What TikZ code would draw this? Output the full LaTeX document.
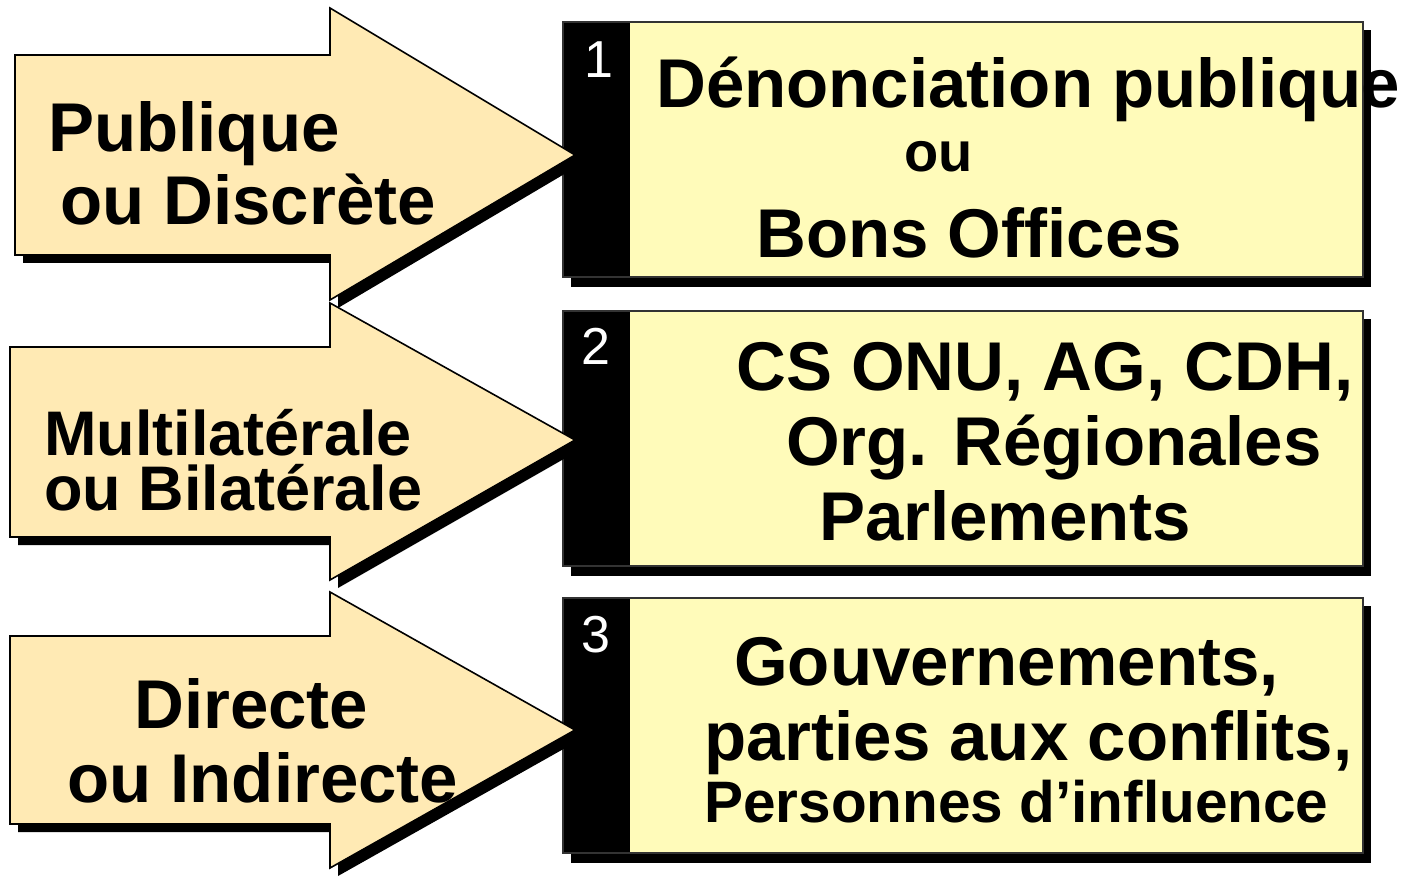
\documentclass[tikz,border=0pt]{standalone}
\usepackage{fontspec}
\setmainfont{Liberation Sans}
\definecolor{peach}{HTML}{FFEAB4}
\definecolor{paleyellow}{HTML}{FFFBBA}
\definecolor{edgegray}{HTML}{333333}
\tikzset{
  fatarrow/.style={fill=peach, draw=black, line width=1.6pt, line join=miter,
    preaction={fill=black, transform canvas={xshift=8pt,yshift=-8pt}}},
  panelshadow/.style={fill=black},
  panel/.style={fill=black},
  boxbody/.style={fill=paleyellow},
  boxedge/.style={draw=edgegray, line width=1.4pt},
  bigtxt/.style={anchor=base west, inner sep=0pt, font=\bfseries\fontsize{69}{75}\selectfont},
  midtxt/.style={anchor=base west, inner sep=0pt, font=\bfseries\fontsize{63}{66}\selectfont},
  outxt/.style={anchor=base west, inner sep=0pt, font=\bfseries\fontsize{56}{60}\selectfont},
  smalltxt/.style={anchor=base west, inner sep=0pt, font=\bfseries\fontsize{58.5}{60}\selectfont},
  numtxt/.style={anchor=base west, inner sep=0pt, text=white, font=\fontsize{52}{60}\selectfont},
}
\begin{document}
\begin{tikzpicture}[x=1pt,y=-1pt]
\useasboundingbox (0,0) rectangle (1406,877);
% ---------- boxes ----------
\foreach \t/\b in {22/277, 311/566, 598/853}{
  \fill[panelshadow] (571,\t+8) rectangle (1371,\b+10);
  \fill[boxbody] (630,\t) rectangle (1363,\b);
  \fill[panel] (563,\t) rectangle (630,\b);
  \draw[boxedge] (563,\t) rectangle (1363,\b);
}
\node[numtxt] (n1) at (584,78) {1};
\node[numtxt] (n2) at (581,365) {2};
\node[numtxt] (n3) at (581,652) {3};
% ---------- arrows ----------
\draw[fatarrow] (15,55) -- (330,55) -- (330,8) -- (575,155) -- (330,300) -- (330,255) -- (15,255) -- cycle;
\draw[fatarrow] (10,347) -- (330,347) -- (330,303) -- (575,440) -- (330,580) -- (330,537) -- (10,537) -- cycle;
\draw[fatarrow] (10,636) -- (330,636) -- (330,592) -- (575,730) -- (330,868) -- (330,824) -- (10,824) -- cycle;
% ---------- arrow texts ----------
\node[bigtxt] (a1l1) at (48,152) {Publique};
\node[bigtxt] (a1l2) at (60,225) {ou Discrète};
\node[midtxt] (a2l1) at (44,455) {Multilatérale};
\node[midtxt] (a2l2) at (44,510) {ou Bilatérale};
\node[bigtxt] (a3l1) at (134,728) {Directe};
\node[bigtxt] (a3l2) at (67,802) {ou Indirecte};
% ---------- box texts ----------
\node[bigtxt] (b1l1) at (656,108) {Dénonciation publique};
\node[outxt] (b1l2) at (904,172) {ou};
\node[bigtxt] (b1l3) at (756,258) {Bons Offices};
\node[bigtxt] (b2l1) at (736,390) {CS ONU, AG, CDH,};
\node[bigtxt] (b2l2) at (786,465) {Org. Régionales};
\node[bigtxt] (b2l3) at (819,540) {Parlements};
\node[bigtxt] (b3l1) at (734,685) {Gouvernements,};
\node[bigtxt] (b3l2) at (704,760) {parties aux conflits,};
\node[smalltxt] (b3l3) at (704,822) {Personnes d’influence};
\end{tikzpicture}
\end{document}
